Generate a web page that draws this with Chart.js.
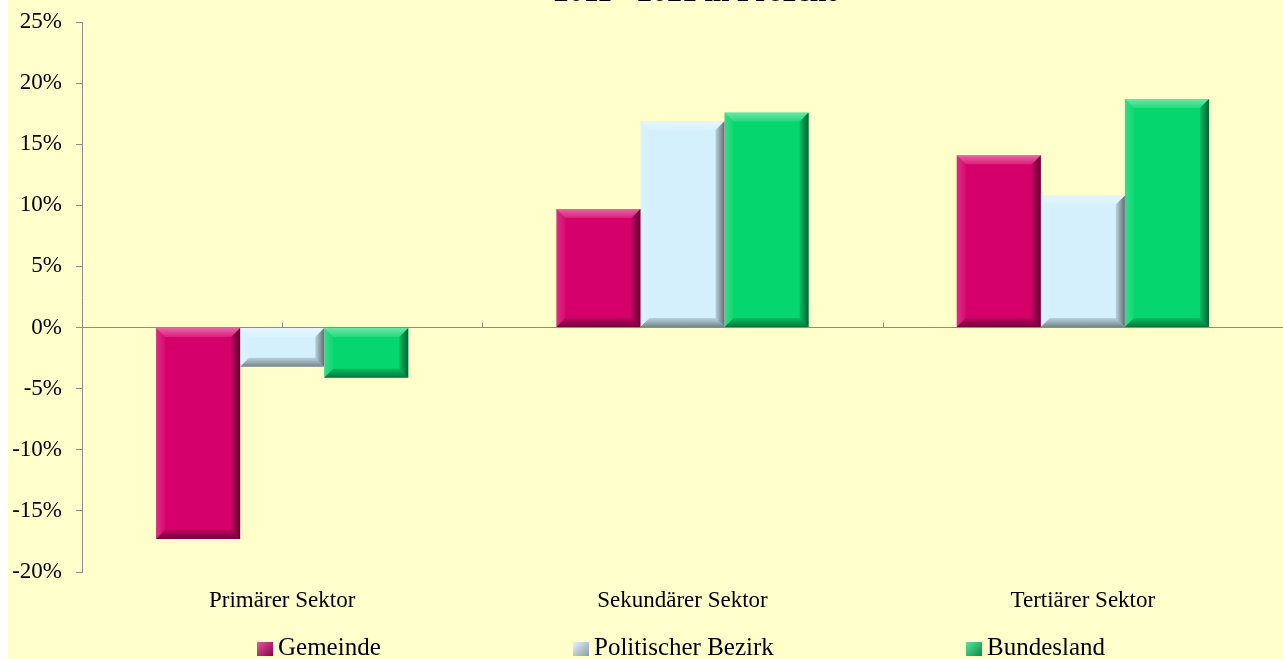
<!DOCTYPE html>
<html lang="de">
<head>
<meta charset="utf-8">
<title>Erwerbstätige nach Sektoren</title>
<script src="https://cdn.jsdelivr.net/npm/chart.js@4.4.1/dist/chart.umd.min.js"></script>
<style>
    html, body { margin: 0; padding: 0; background: #ffffff; overflow: hidden; }
    #wrap { position: absolute; left: 8px; top: 0; width: 1275px; height: 659px; background: #ffffcc; }
    #legend { position: absolute; left: 0; top: 0; width: 100%; height: 100%; pointer-events: none; }
    .leg { position: absolute; top: 633px; font: 25px "Liberation Serif", "Times New Roman", serif; color: #000; white-space: nowrap; line-height: 28px; }
    .leg i { display: inline-block; width: 16px; height: 14px; margin-right: 5px; vertical-align: -1px; }
</style>
</head>
<body>
<div id="wrap">
    <canvas id="sectorChart"></canvas>
    <div id="legend"></div>
</div>
<script>
const categories = ['Primärer Sektor', 'Sekundärer Sektor', 'Tertiärer Sektor'];
const seriesNames = ['Gemeinde', 'Politischer Bezirk', 'Bundesland'];
const gemeinde = [-17.3, 9.7, 14.1];
const bezirk = [-3.2, 16.9, 10.8];
const bundesland = [-4.1, 17.6, 18.7];
const yTicks = [-20, -15, -10, -5, 0, 5, 10, 15, 20, 25];
const titleText = '2011 - 2021 in Prozent';

const colors = ['#d6006a', '#d4f0fc', '#06d66e'];
const legendLeft = [249, 565, 958];

// --- bevel look like the office chart (light top/left, dark bottom/right)
const bevelPlugin = {
    id: 'bevel',
    afterDatasetsDraw(chart) {
        const ctx = chart.ctx;
        const b = 9;
        chart.data.datasets.forEach((ds, di) => {
            chart.getDatasetMeta(di).data.forEach(bar => {
                const l = bar.x - bar.width / 2, r = bar.x + bar.width / 2;
                const t = Math.min(bar.y, bar.base), btm = Math.max(bar.y, bar.base);
                const bb = Math.min(b, (btm - t) / 2);
                ctx.save();
                // top
                let g = ctx.createLinearGradient(0, t, 0, t + bb);
                g.addColorStop(0, 'rgba(255,255,255,0.4)');
                g.addColorStop(1, 'rgba(255,255,255,0.12)');
                ctx.fillStyle = g;
                ctx.beginPath();
                ctx.moveTo(l, t); ctx.lineTo(r, t); ctx.lineTo(r - bb, t + bb); ctx.lineTo(l + bb, t + bb);
                ctx.closePath(); ctx.fill();
                // left
                g = ctx.createLinearGradient(l, 0, l + bb, 0);
                g.addColorStop(0, 'rgba(255,255,255,0.18)');
                g.addColorStop(1, 'rgba(255,255,255,0.04)');
                ctx.fillStyle = g;
                ctx.beginPath();
                ctx.moveTo(l, t); ctx.lineTo(l + bb, t + bb); ctx.lineTo(l + bb, btm - bb); ctx.lineTo(l, btm);
                ctx.closePath(); ctx.fill();
                // right
                g = ctx.createLinearGradient(r, 0, r - bb, 0);
                g.addColorStop(0, 'rgba(0,0,0,0.55)');
                g.addColorStop(1, 'rgba(0,0,0,0.12)');
                ctx.fillStyle = g;
                ctx.beginPath();
                ctx.moveTo(r, t); ctx.lineTo(r, btm); ctx.lineTo(r - bb, btm - bb); ctx.lineTo(r - bb, t + bb);
                ctx.closePath(); ctx.fill();
                // bottom
                g = ctx.createLinearGradient(0, btm, 0, btm - bb);
                g.addColorStop(0, 'rgba(0,0,0,0.45)');
                g.addColorStop(1, 'rgba(0,0,0,0.12)');
                ctx.fillStyle = g;
                ctx.beginPath();
                ctx.moveTo(l, btm); ctx.lineTo(r, btm); ctx.lineTo(r - bb, btm - bb); ctx.lineTo(l + bb, btm - bb);
                ctx.closePath(); ctx.fill();
                ctx.restore();
            });
        });
    }
};

// --- small category ticks sitting on the zero line
const zeroTicksPlugin = {
    id: 'zeroTicks',
    beforeDatasetsDraw(chart) {
        const ctx = chart.ctx, x = chart.scales.x, y0 = chart.scales.y.getPixelForValue(0);
        ctx.save();
        ctx.strokeStyle = '#8c8c8c';
        ctx.lineWidth = 1;
        ctx.beginPath();
        for (let i = 0; i < categories.length; i++) {
            const c = x.getPixelForValue(i);
            const half = (i + 1 < categories.length ? x.getPixelForValue(i + 1) - c : c - x.getPixelForValue(i - 1)) / 2;
            [c, c + half].forEach(px => {
                ctx.moveTo(Math.round(px) + 0.5, y0 - 5);
                ctx.lineTo(Math.round(px) + 0.5, y0);
            });
        }
        ctx.stroke();
        ctx.restore();
    }
};

// --- title, mostly cut off at the top edge
const cutTitlePlugin = {
    id: 'cutTitle',
    afterDraw(chart) {
        const ctx = chart.ctx;
        ctx.save();
        ctx.font = 'bold 30px "Liberation Serif", "Times New Roman", serif';
        ctx.fillStyle = '#000';
        ctx.textAlign = 'center';
        ctx.textBaseline = 'alphabetic';
        ctx.fillText(titleText, 687, 1);
        ctx.restore();
    }
};

const datasets = [gemeinde, bezirk, bundesland].map((vals, i) => ({
    label: seriesNames[i],
    data: vals,
    backgroundColor: colors[i],
    borderWidth: 0,
    categoryPercentage: 0.63,
    barPercentage: 1.0
}));

const chart = new Chart(document.getElementById('sectorChart').getContext('2d'), {
    type: 'bar',
    data: { labels: categories, datasets: datasets },
    options: {
        responsive: true,
        maintainAspectRatio: false,
        animation: false,
        layout: { padding: { top: 22, right: -7, bottom: 0, left: 0 } },
        plugins: {
            legend: { display: false },
            tooltip: { enabled: false }
        },
        scales: {
            x: {
                grid: { display: false, drawTicks: false },
                border: { display: false },
                ticks: {
                    padding: 15,
                    color: '#000',
                    font: { family: '"Liberation Serif", "Times New Roman", serif', size: 23 }
                },
                afterFit(scale) { scale.height = 87; }
            },
            y: {
                min: yTicks[0],
                max: yTicks[yTicks.length - 1],
                afterBuildTicks(scale) { scale.ticks = yTicks.map(v => ({ value: v })); },
                grid: {
                    color: ctx => (ctx.tick && ctx.tick.value === 0 ? '#8c8c8c' : 'rgba(0,0,0,0)'),
                    tickColor: '#8c8c8c',
                    tickLength: 6,
                    lineWidth: 1
                },
                border: { display: true, color: '#8c8c8c', width: 1 },
                ticks: {
                    padding: 14,
                    color: '#000',
                    font: { family: '"Liberation Serif", "Times New Roman", serif', size: 23 },
                    callback: v => v + '%'
                },
                afterFit(scale) {
                    scale.width = 74;
                    scale.paddingTop = 0;
                    scale.paddingBottom = 0;
                }
            }
        }
    },
    plugins: [zeroTicksPlugin, bevelPlugin, cutTitlePlugin]
});

// --- legend below the chart
const legendEl = document.getElementById('legend');
chart.data.datasets.forEach((ds, i) => {
    const item = document.createElement('span');
    item.className = 'leg';
    item.style.left = legendLeft[i] + 'px';
    const box = document.createElement('i');
    box.style.background = 'linear-gradient(135deg, rgba(255,255,255,0.35), rgba(0,0,0,0.35)), ' + ds.backgroundColor;
    item.appendChild(box);
    item.appendChild(document.createTextNode(ds.label));
    legendEl.appendChild(item);
});
</script>
</body>
</html>
